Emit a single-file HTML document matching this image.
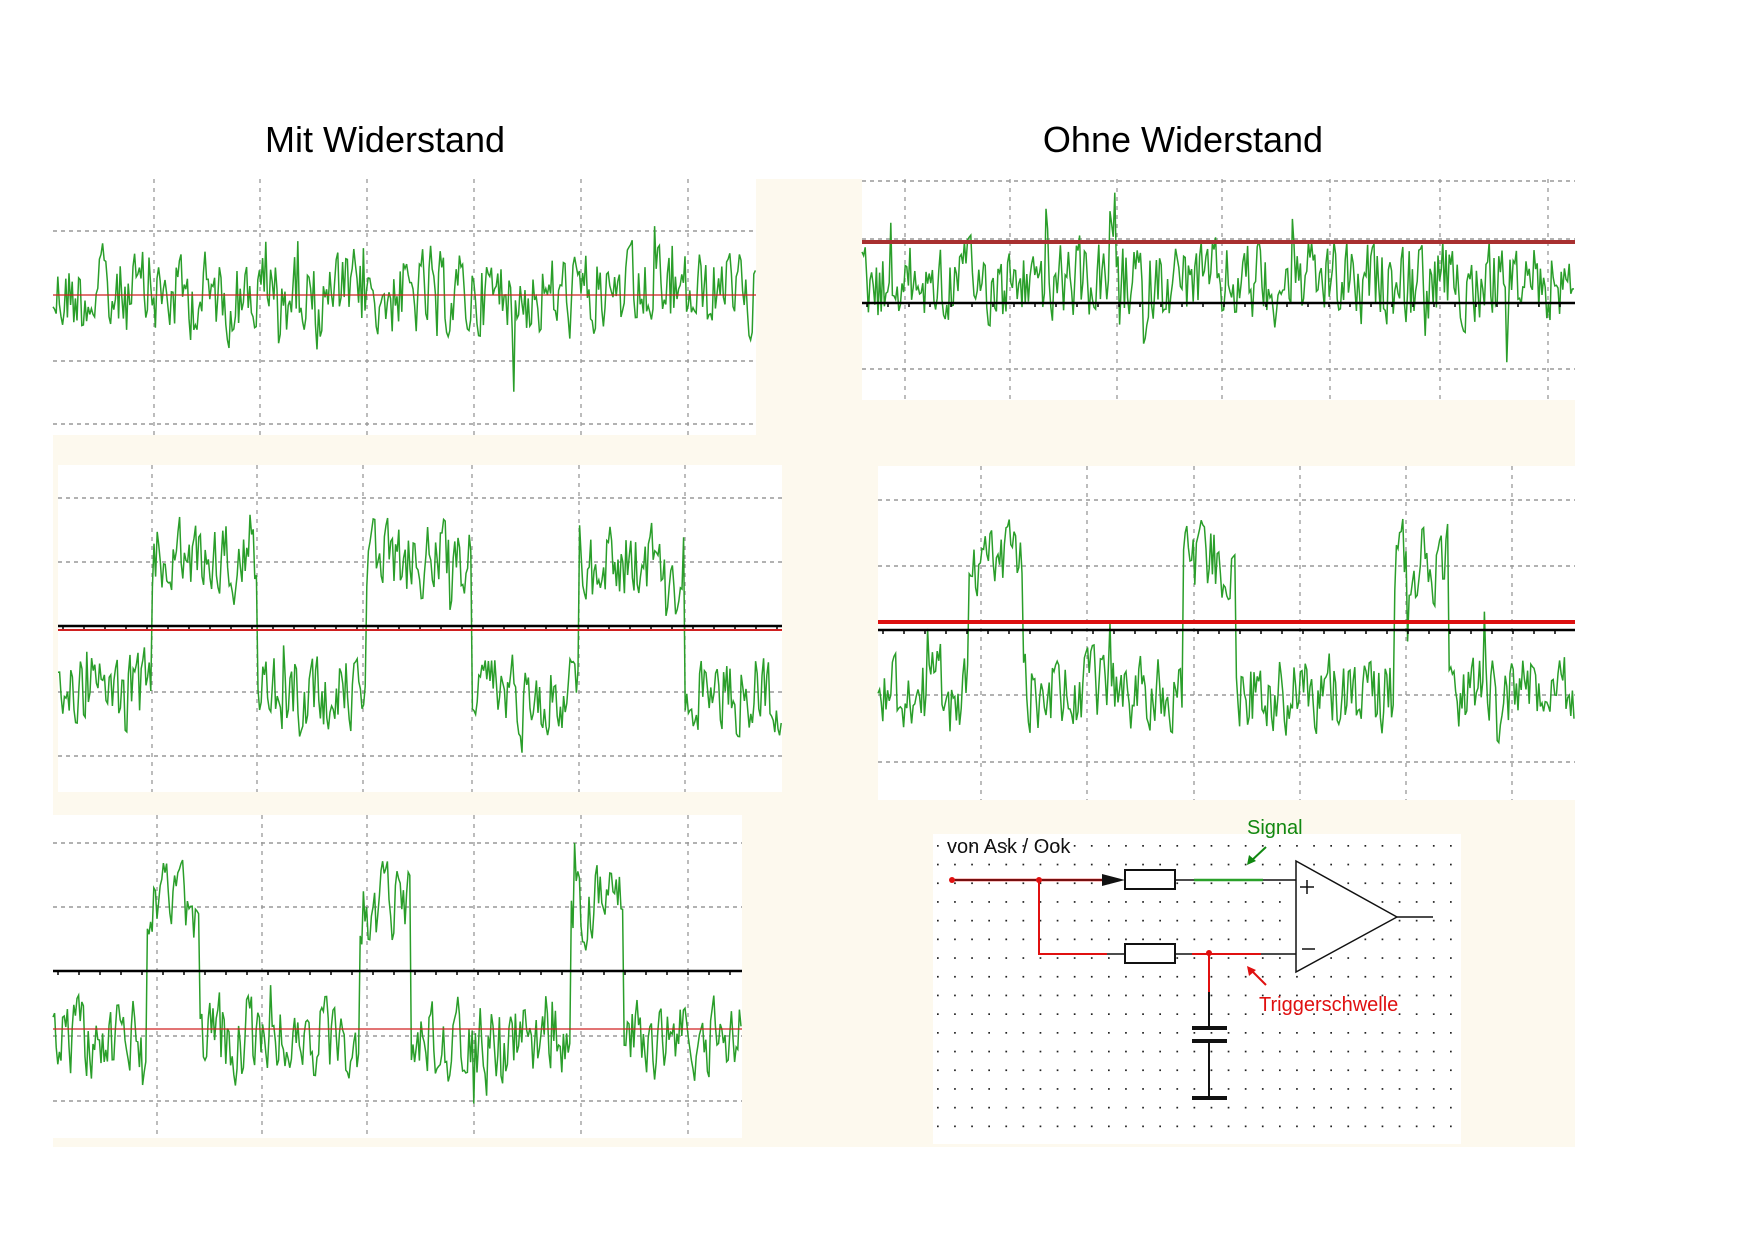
<!DOCTYPE html>
<html><head><meta charset="utf-8"><style>
html,body{margin:0;padding:0;background:#fff;}
body{width:1754px;height:1240px;overflow:hidden;position:relative;font-family:"Liberation Sans",sans-serif;}
svg{position:absolute;left:0;top:0;}
</style></head><body>
<svg id="s" width="1754" height="1240" viewBox="0 0 1754 1240" xmlns="http://www.w3.org/2000/svg">
<rect x="53" y="179" width="1522" height="968" fill="#fdf9ee"/>
<text x="385" y="152" font-size="36" text-anchor="middle" font-family="Liberation Sans, sans-serif">Mit Widerstand</text>
<text x="1183" y="152" font-size="36" text-anchor="middle" font-family="Liberation Sans, sans-serif">Ohne Widerstand</text>
<g id="panels"></g>
<rect x="933" y="834" width="528" height="310" fill="#fff"/>
<g id="dots" fill="#222"></g>
<text x="947" y="853" font-size="20" fill="#111">von Ask / Ook</text>
<text x="1247" y="834" font-size="20" fill="#118811">Signal</text>
<text x="1259" y="1011" font-size="20" fill="#e01010">Triggerschwelle</text>
<g stroke-linecap="butt" fill="none">
<line x1="952" y1="880" x2="1105" y2="880" stroke="#e01010" stroke-width="2.5"/>
<line x1="952" y1="880" x2="1105" y2="880" stroke="#111" stroke-width="1"/>
<polygon points="1102,874 1125,880 1102,886" fill="#111" stroke="none"/>
<rect x="1125" y="870" width="50" height="19" stroke="#111" stroke-width="2" fill="#fff"/>
<line x1="1175" y1="880" x2="1194" y2="880" stroke="#111" stroke-width="1.5"/>
<line x1="1194" y1="880" x2="1263" y2="880" stroke="#2aa02a" stroke-width="2.5"/>
<line x1="1263" y1="880" x2="1296" y2="880" stroke="#111" stroke-width="1.5"/>
<polyline points="1039,880 1039,954 1107,954" stroke="#e01010" stroke-width="2"/>
<line x1="1107" y1="954" x2="1125" y2="954" stroke="#111" stroke-width="1.5"/>
<rect x="1125" y="944" width="50" height="19" stroke="#111" stroke-width="2" fill="#fff"/>
<line x1="1175" y1="954" x2="1192" y2="954" stroke="#111" stroke-width="1.5"/>
<line x1="1192" y1="954" x2="1261" y2="954" stroke="#e01010" stroke-width="2"/>
<line x1="1261" y1="954" x2="1296" y2="954" stroke="#111" stroke-width="1.5"/>
<line x1="1209" y1="954" x2="1209" y2="992" stroke="#e01010" stroke-width="2"/>
<line x1="1209" y1="992" x2="1209" y2="1028" stroke="#111" stroke-width="2"/>
<line x1="1192" y1="1028" x2="1227" y2="1028" stroke="#111" stroke-width="4"/>
<line x1="1192" y1="1041" x2="1227" y2="1041" stroke="#111" stroke-width="4"/>
<line x1="1209" y1="1041" x2="1209" y2="1098" stroke="#111" stroke-width="2"/>
<line x1="1192" y1="1098" x2="1227" y2="1098" stroke="#111" stroke-width="4"/>
<polygon points="1296,861 1397,917 1296,972" stroke="#111" stroke-width="1.5" fill="#fff"/>
<line x1="1397" y1="917" x2="1433" y2="917" stroke="#111" stroke-width="1.5"/>
<line x1="1307" y1="880" x2="1307" y2="894" stroke="#111" stroke-width="1.5"/>
<line x1="1300" y1="887" x2="1314" y2="887" stroke="#111" stroke-width="1.5"/>
<line x1="1302" y1="949" x2="1315" y2="949" stroke="#111" stroke-width="1.5"/>
<line x1="1266" y1="847" x2="1250" y2="862" stroke="#118811" stroke-width="2"/>
<polygon points="1247,865 1249,855 1256,861" fill="#118811"/>
<line x1="1266" y1="985" x2="1250" y2="969" stroke="#e01010" stroke-width="2"/>
<polygon points="1247,966 1256,970 1249,976" fill="#e01010"/>
<circle cx="952" cy="880" r="3" fill="#e01010"/>
<circle cx="1039" cy="880" r="3" fill="#e01010"/>
<circle cx="1209" cy="953" r="3" fill="#e01010"/>
</g>
</svg>
<script>
(function(){
var seed=12345;function rnd(){seed=(seed*1103515245+12345)%2147483648;return seed/2147483648;}
var NS="http://www.w3.org/2000/svg";
var g=document.getElementById('panels');
function el(t,a){var e=document.createElementNS(NS,t);for(var k in a)e.setAttribute(k,a[k]);g.appendChild(e);return e;}
function panel(p){
 el('rect',{x:p.x0,y:p.y0,width:p.x1-p.x0,height:p.y1-p.y0,fill:'#fff'});
 p.gv.forEach(function(x){el('line',{x1:x,y1:p.y0,x2:x,y2:p.y1,stroke:'#999','stroke-width':1.3,'stroke-dasharray':'4 5'});});
 p.gh.forEach(function(y){el('line',{x1:p.x0,y1:y,x2:p.x1,y2:y,stroke:'#999','stroke-width':1.5,'stroke-dasharray':'4 4'});});
 var pts=[],v=0;
 for(var x=p.x0;x<=p.x1;x+=1.6){
   var hi=false;(p.hi||[]).forEach(function(s){if(x>=s[0]&&x<s[1])hi=true;});
   var m=p.hi?(hi?p.mh:p.ml):p.m;
   v=0.35*v+(rnd()-0.5)*2*p.a;
   if(rnd()<0.07)v+=(rnd()-0.5)*p.a*3;
   pts.push(x.toFixed(1)+','+(m+v).toFixed(1));
 }
 el('polyline',{points:pts.join(' '),fill:'none',stroke:'#2a9e2a','stroke-width':1.5});
 if(p.black!==undefined){
   el('line',{x1:p.x0,y1:p.black,x2:p.x1,y2:p.black,stroke:'#000','stroke-width':2.5});
   for(var x=p.x0+5;x<p.x1;x+=21)el('line',{x1:x,y1:p.black,x2:x,y2:p.black+4,stroke:'#000','stroke-width':1.5});
 }
 if(p.red!==undefined)el('line',{x1:p.x0,y1:p.red,x2:p.x1,y2:p.red,stroke:p.rc||'#d02020','stroke-width':p.rw||1.2});
}
panel({x0:53,y0:179,x1:756,y1:435,gv:[154,260,367,474,581,688],gh:[231,361,424],m:295,a:38,red:295,rw:1.2});
panel({x0:862,y0:179,x1:1575,y1:400,gv:[905,1010,1117,1222,1330,1440,1548],gh:[181,239,369],m:282,a:36,black:303,red:242,rw:4,rc:'#a83030'});
panel({x0:58,y0:465,x1:782,y1:792,gv:[152,257,363,472,579,685],gh:[498,562,692,756],hi:[[152,257],[366,472],[579,685]],mh:560,ml:690,a:34,black:626,red:630,rw:2});
panel({x0:878,y0:466,x1:1575,y1:800,gv:[981,1087,1194,1300,1406,1512],gh:[500,566,695,762],hi:[[969,1023],[1182,1236],[1394,1448]],mh:562,ml:692,a:34,black:630,red:622,rw:4,rc:'#dd1010'});
panel({x0:53,y0:815,x1:742,y1:1138,gv:[157,262,367,474,581,688],gh:[843,907,1036,1101],hi:[[146,199],[359,411],[571,624]],mh:905,ml:1040,a:34,black:971,red:1029,rw:1.2});
var d=document.getElementById('dots'),h='';
for(var y=845;y<1140;y+=18.7)for(var x=937;x<1460;x+=17.1)h+='<rect x="'+x.toFixed(1)+'" y="'+y.toFixed(1)+'" width="1.7" height="1.7"/>';
d.innerHTML=h;
})();
</script>
</body></html>
